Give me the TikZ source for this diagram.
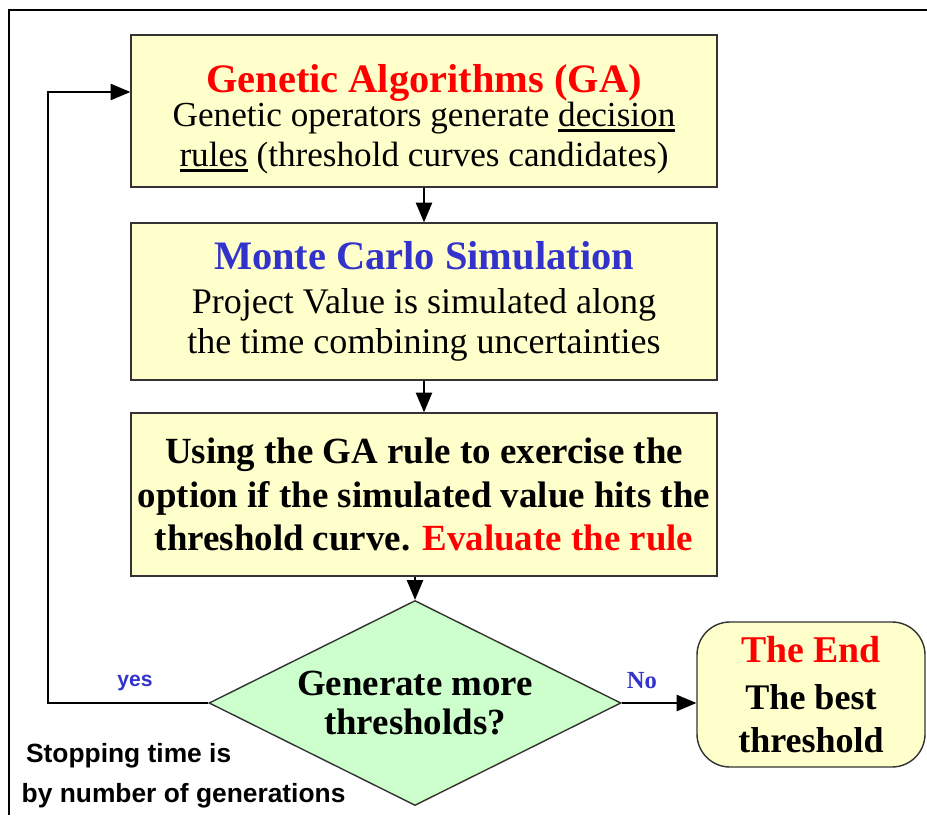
\documentclass[tikz,border=0pt]{standalone}
\usepackage{fontspec}
\setmainfont{Liberation Serif}
\setsansfont{Liberation Sans}
\usepackage{tikz}
\usetikzlibrary{shapes}
\usetikzlibrary{shapes.geometric}
\usetikzlibrary{arrows}
\definecolor{paleyellow}{HTML}{FFFFCC}
\definecolor{palegreen}{HTML}{CCFFCC}
\definecolor{answerblue}{HTML}{3333CC}
% heavy underline
\newcommand{\thickul}[1]{\leavevmode\vtop{\hbox{#1}\kern1.2pt\hrule height 1.6pt}}
\tikzstyle{Box}=[rectangle,draw=black!80,fill=paleyellow,line width=0.8pt,minimum width=11.72cm,align=center,inner sep=0mm]
\tikzstyle{Decision}=[diamond,draw=black!80,fill=palegreen,line width=0.8pt,aspect=2,inner sep=0mm,minimum width=8.24cm,minimum height=4.1cm,align=center]
\tikzstyle{Terminal}=[rectangle,rounded corners=0.66cm,draw=black!80,fill=paleyellow,line width=0.8pt,minimum width=4.56cm,minimum height=2.9cm,align=center,inner sep=0mm]
\tikzstyle{arrow}=[->,>=triangle 45,line width=1.6pt]
\tikzstyle{Answer}=[text=answerblue,font=\bfseries\fontsize{14}{16}\selectfont]
\tikzset{every picture/.style={
    line width=1
  }
}

\begin{document}
\begin{tikzpicture}
      \useasboundingbox (0,0) rectangle (18.54,16.3);
      % frame
      \draw[line width=1.7pt] (18.54,16.1) -- (0.18,16.1) -- (0.18,0);
      \node[Box, minimum height=3.04cm, font=\fontsize{20}{22.6}\selectfont] at (8.48,14.08) (ga) {%
        \rule{0pt}{25pt}{\fontsize{23}{24}\selectfont\bfseries\color{red}Genetic Algorithms (GA)}\\[-3pt]
        Genetic operators generate \thickul{decision}\\
        \thickul{rules} (threshold curves candidates)};
      \node[Box, minimum height=3.14cm, font=\fontsize{20.5}{22.6}\selectfont] at (8.48,10.27) (mc) {%
        {\fontsize{23}{24}\selectfont\bfseries\color{answerblue}Monte Carlo Simulation}\\[2.4pt]
        Project Value is simulated along\\
        the time combining uncertainties};
      \node[Box, minimum height=3.26cm, font=\bfseries\fontsize{21}{25}\selectfont] at (8.48,6.41) (rule) {%
        Using the GA rule to exercise the\\
        option if the simulated value hits the\\
        threshold curve. {\color{red}Evaluate the rule}};
      \node[Decision, font=\bfseries\fontsize{21}{22.6}\selectfont] at (8.30,2.24) (more) {%
        Generate more\\thresholds?};
      \node[Terminal, font=\bfseries\fontsize{20.5}{24.3}\selectfont] at (16.22,2.41) (end) {%
        {\fontsize{21.5}{25}\selectfont\color{red}The End}\\[2.7pt]
        The best\\threshold};
      \node[Answer, font=\sffamily\bfseries\fontsize{12}{14}\selectfont] at (2.70,2.64) (yes) {yes};
      \node[Answer] at (12.84,2.68) (no) {No};
      \node[align=left, anchor=west, font=\sffamily\bfseries\fontsize{15}{22.6}\selectfont] at (0.30,0.78) (stop) {%
        \,Stopping time is\\by number of generations};
      \coordinate (loop) at (0.96,14.46);
      \draw[arrow] (ga) -- (mc);
      \draw[arrow] (mc) -- (rule);
      \draw[arrow] (rule.south -| more.north) -- (more.north);
      \draw[arrow] (more.east) -- (more.east -| end.west);
      \draw[arrow] (more.west) -| (loop) -- (loop -| ga.west);
    \end{tikzpicture}
\end{document}
